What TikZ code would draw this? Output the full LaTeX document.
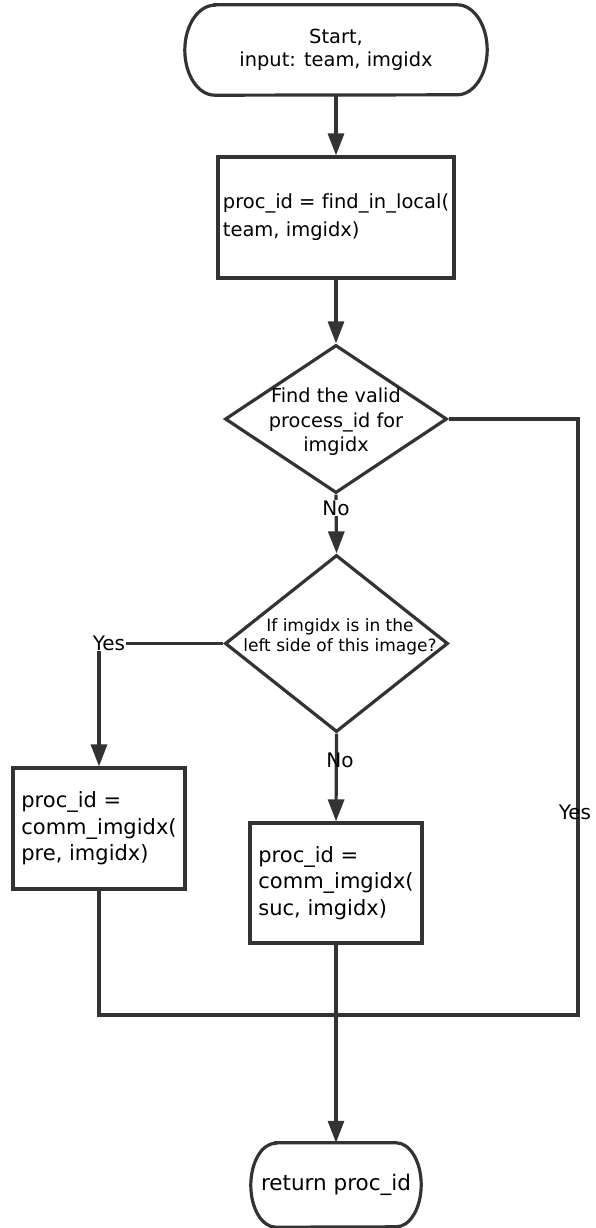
\documentclass[tikz,border=0pt]{standalone}
\usepackage{fontspec}
\setmainfont{DejaVu Sans}[Ligatures=NoCommon]
\usetikzlibrary{shapes.geometric,arrows.meta,calc}
\definecolor{ink}{HTML}{333333}
\begin{document}
\begin{tikzpicture}[x=1pt,y=-1pt,
  conn/.style={draw=ink,line width=3.2pt},
  arr/.style={conn,-{Triangle[length=22pt,width=16pt]}},
  procbox/.style={draw=ink,line width=3.2pt,rectangle,inner sep=0pt,align=left,text=black},
  decision/.style={draw=ink,line width=3.2pt,diamond,inner sep=0pt},
  termtext/.style={rectangle,inner sep=0pt,align=center,text=black},
  dtext/.style={inner sep=0pt,align=center,text=black},
  lbl/.style={inner sep=1pt,text=black,font=\fontsize{20pt}{24pt}\selectfont},
  fA/.style={font=\fontsize{19.4pt}{23pt}\selectfont},
  fB/.style={font=\fontsize{19.5pt}{28pt}\selectfont},
  fC/.style={font=\fontsize{19.3pt}{24.5pt}\selectfont},
  fD/.style={font=\fontsize{17pt}{20pt}\selectfont},
  fE/.style={font=\fontsize{21pt}{26.5pt}\selectfont},
]
\useasboundingbox[fill=white] (0,0) rectangle (595,1228);

% start terminal
\node[termtext,fA,minimum width=302pt,minimum height=90pt] (s) at (336,50) {Start,\\input: team, imgidx};
\draw[conn] ([xshift=30pt]s.north west) -- ([xshift=-30pt]s.north east)
  arc[start angle=90,end angle=-90,x radius=30pt,y radius=45pt]
  -- ([xshift=30pt]s.south west)
  arc[start angle=270,end angle=90,x radius=30pt,y radius=45pt] -- cycle;

% local lookup
\node[procbox,fB,minimum width=236pt,minimum height=121pt] (b1) at (336,217.5) {proc\_id = find\_in\_local(\\team, imgidx)};

% first decision
\node[decision,minimum width=222pt,minimum height=148pt] (d1) at (336,419) {};
\node[dtext,fC] (d1t) at (336,422) {Find the valid\\process\_id for\\imgidx};

% second decision
\node[decision,minimum width=223pt,minimum height=177pt] (d2) at (336.5,643.5) {};
\node[dtext,fD] (d2t) at (340,637) {If imgidx is in the\\left side of this image?};

% communication boxes
\node[procbox,fE,minimum width=172pt,minimum height=121pt] (lb) at (99,828.5) {proc\_id =\\comm\_imgidx(\\pre, imgidx)};
\node[procbox,fE,minimum width=172pt,minimum height=120pt] (rb) at (336,883) {proc\_id =\\comm\_imgidx(\\suc, imgidx)};

% end terminal
\node[termtext,font=\fontsize{21.5pt}{26pt}\selectfont,minimum width=170pt,minimum height=84pt] (e) at (336,1185) {return proc\_id};
\draw[conn] ([xshift=25pt]e.north west) -- ([xshift=-25pt]e.north east)
  arc[start angle=90,end angle=-90,x radius=25pt,y radius=42pt]
  -- ([xshift=25pt]e.south west)
  arc[start angle=270,end angle=90,x radius=25pt,y radius=42pt] -- cycle;

% junction points
\coordinate (rturn) at (578,1015);
\coordinate (merge) at (336,1015);

% connectors
\draw[arr] (s.south) -- (b1.north);
\draw[arr] (b1.south) -- (d1.north);
\draw[arr] (d1.south) -- (d2.north);
\draw[arr] (d2.west) -| (lb.north);
\draw[arr] (d2.south) -- (rb.north);
\draw[conn] (d1.east) -| (rturn) -- (merge);
\draw[conn] (lb.south) |- (merge);
\draw[arr] (rb.south) -- (e.north);

% branch labels
\node[lbl,fill=white] (no1) at (336,508) {No};
\node[lbl,fill=white] (yes1) at (109,643) {Yes};
\node[lbl] (no2) at (340,760) {No};
\node[lbl] (yes2) at (575,812) {Yes};
\end{tikzpicture}
\end{document}
